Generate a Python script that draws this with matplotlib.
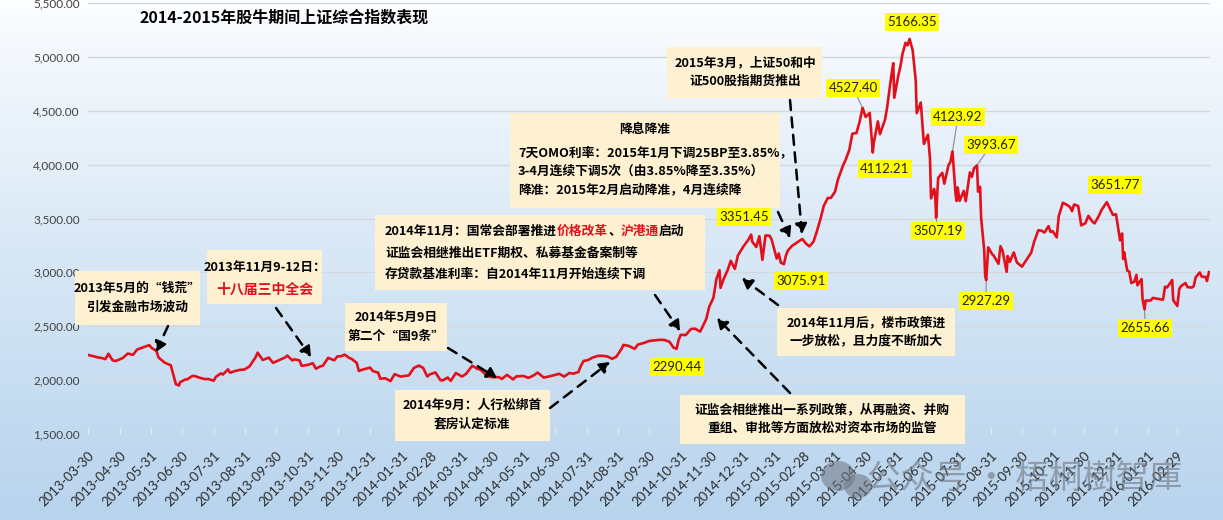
import numpy as np
import pandas as pd
import matplotlib
matplotlib.use('Agg')
import matplotlib.pyplot as plt
from matplotlib.patches import Rectangle, Ellipse, FancyArrowPatch
from matplotlib.ticker import FuncFormatter

plt.rcParams['font.family'] = ['Lato', 'Noto Sans CJK SC', 'DejaVu Sans']
CJK = ['Noto Sans CJK SC', 'DejaVu Sans']

# 上证综合指数（按图读取，约每周一点）
dates = [
    '2013-03-29', '2013-04-03', '2013-04-08', '2013-04-12', '2013-04-16', '2013-04-19', '2013-04-23', '2013-04-26',
    '2013-05-03', '2013-05-08', '2013-05-13', '2013-05-17', '2013-05-22', '2013-05-29', '2013-05-31',
    '2013-06-05', '2013-06-07', '2013-06-13', '2013-06-19', '2013-06-24', '2013-06-27', '2013-06-28',
    '2013-07-03', '2013-07-05', '2013-07-10', '2013-07-12', '2013-07-17', '2013-07-22', '2013-07-26', '2013-07-31',
    '2013-08-02', '2013-08-07', '2013-08-09', '2013-08-14', '2013-08-16', '2013-08-21', '2013-08-26', '2013-08-30',
    '2013-09-04', '2013-09-10', '2013-09-12', '2013-09-17', '2013-09-23', '2013-09-27',
    '2013-10-09', '2013-10-11', '2013-10-16', '2013-10-18', '2013-10-23', '2013-10-25', '2013-10-31',
    '2013-11-05', '2013-11-08', '2013-11-12', '2013-11-15', '2013-11-20', '2013-11-26', '2013-11-29',
    '2013-12-03', '2013-12-06', '2013-12-11', '2013-12-13', '2013-12-18', '2013-12-20', '2013-12-25', '2013-12-31',
    '2014-01-03', '2014-01-08', '2014-01-10', '2014-01-15', '2014-01-20', '2014-01-24', '2014-01-30',
    '2014-02-07', '2014-02-12', '2014-02-17', '2014-02-21', '2014-02-25', '2014-02-28',
    '2014-03-05', '2014-03-10', '2014-03-12', '2014-03-17', '2014-03-20', '2014-03-25', '2014-03-31',
    '2014-04-04', '2014-04-10', '2014-04-15', '2014-04-18', '2014-04-25', '2014-04-30',
    '2014-05-06', '2014-05-09', '2014-05-14', '2014-05-20', '2014-05-23', '2014-05-30',
    '2014-06-04', '2014-06-09', '2014-06-13', '2014-06-19', '2014-06-24', '2014-06-30',
    '2014-07-04', '2014-07-09', '2014-07-14', '2014-07-18', '2014-07-23', '2014-07-25', '2014-07-28',
    '2014-08-01', '2014-08-06', '2014-08-11', '2014-08-15', '2014-08-20', '2014-08-25', '2014-08-29',
    '2014-09-03', '2014-09-05', '2014-09-10', '2014-09-16', '2014-09-19', '2014-09-25', '2014-09-30',
    '2014-10-10', '2014-10-15', '2014-10-20', '2014-10-24', '2014-10-27', '2014-10-29', '2014-10-31',
    '2014-11-05', '2014-11-10', '2014-11-14', '2014-11-19', '2014-11-21', '2014-11-25', '2014-11-28',
    '2014-12-02', '2014-12-05', '2014-12-08', '2014-12-09', '2014-12-12', '2014-12-16', '2014-12-19',
    '2014-12-23', '2014-12-26', '2014-12-31',
    '2015-01-05', '2015-01-08', '2015-01-09', '2015-01-13', '2015-01-16', '2015-01-19', '2015-01-22',
    '2015-01-26', '2015-01-28', '2015-02-02', '2015-02-04', '2015-02-06', '2015-02-09', '2015-02-11',
    '2015-02-13', '2015-02-17', '2015-02-27', '2015-03-03', '2015-03-06', '2015-03-10', '2015-03-13',
    '2015-03-17', '2015-03-20', '2015-03-24', '2015-03-27', '2015-03-31',
    '2015-04-03', '2015-04-08', '2015-04-10', '2015-04-14', '2015-04-17', '2015-04-21', '2015-04-24',
    '2015-04-27', '2015-04-30', '2015-05-04', '2015-05-06', '2015-05-07', '2015-05-08', '2015-05-12',
    '2015-05-14', '2015-05-19', '2015-05-21', '2015-05-25', '2015-05-27', '2015-05-28',
    '2015-06-01', '2015-06-03', '2015-06-05', '2015-06-08', '2015-06-10', '2015-06-12', '2015-06-15',
    '2015-06-18', '2015-06-19', '2015-06-23', '2015-06-26', '2015-06-30',
    '2015-07-02', '2015-07-03', '2015-07-06', '2015-07-07', '2015-07-08', '2015-07-09', '2015-07-10',
    '2015-07-14', '2015-07-16', '2015-07-20', '2015-07-22', '2015-07-24', '2015-07-27', '2015-07-28',
    '2015-07-29', '2015-07-31', '2015-08-04', '2015-08-06', '2015-08-10', '2015-08-12', '2015-08-14',
    '2015-08-17', '2015-08-18', '2015-08-20', '2015-08-21', '2015-08-24', '2015-08-25', '2015-08-26',
    '2015-08-27', '2015-08-28', '2015-09-01', '2015-09-02', '2015-09-07', '2015-09-09', '2015-09-11',
    '2015-09-15', '2015-09-16', '2015-09-18', '2015-09-22', '2015-09-25', '2015-09-30',
    '2015-10-09', '2015-10-12', '2015-10-16', '2015-10-19', '2015-10-22', '2015-10-26', '2015-10-28',
    '2015-10-30', '2015-11-03', '2015-11-05', '2015-11-09', '2015-11-12', '2015-11-16', '2015-11-18',
    '2015-11-20', '2015-11-24', '2015-11-27', '2015-12-01', '2015-12-04', '2015-12-08', '2015-12-10',
    '2015-12-14', '2015-12-17', '2015-12-22', '2015-12-24', '2015-12-28', '2015-12-31',
    '2016-01-04', '2016-01-06', '2016-01-07', '2016-01-08', '2016-01-11', '2016-01-13', '2016-01-15',
    '2016-01-18', '2016-01-20', '2016-01-21', '2016-01-25', '2016-01-26', '2016-01-28', '2016-01-29',
    '2016-02-03', '2016-02-05', '2016-02-15', '2016-02-17', '2016-02-19', '2016-02-24', '2016-02-25',
    '2016-02-29', '2016-03-02', '2016-03-04', '2016-03-08', '2016-03-10', '2016-03-14', '2016-03-16',
    '2016-03-18', '2016-03-22', '2016-03-24', '2016-03-28', '2016-03-29', '2016-03-31',
]
close = [
    2236, 2225, 2212, 2206, 2195, 2245, 2184, 2177,
    2205, 2247, 2235, 2283, 2301, 2325, 2301,
    2270, 2210, 2162, 2138, 1963, 1950, 1979,
    2005, 2007, 2038, 2039, 2023, 2010, 2010, 1994,
    2029, 2063, 2052, 2100, 2069, 2085, 2096, 2098,
    2127, 2212, 2255, 2187, 2209, 2160,
    2211, 2228, 2183, 2193, 2183, 2133, 2141,
    2157, 2106, 2126, 2135, 2207, 2184, 2220,
    2222, 2237, 2204, 2197, 2160, 2085, 2101, 2116,
    2083, 2069, 2013, 2017, 1991, 2055, 2033,
    2044, 2114, 2135, 2113, 2034, 2056,
    2071, 1999, 1997, 2024, 1993, 2066, 2033,
    2058, 2134, 2105, 2097, 2036, 2026,
    2028, 2011, 2049, 2007, 2034, 2039,
    2021, 2043, 2070, 2024, 2034, 2048,
    2059, 2033, 2066, 2060, 2076, 2126, 2178,
    2185, 2210, 2225, 2226, 2220, 2198, 2217,
    2288, 2327, 2318, 2290, 2329, 2345, 2363,
    2374, 2373, 2356, 2302, 2290.44, 2373, 2420,
    2419, 2474, 2478, 2450, 2487, 2567, 2683,
    2763, 2938, 3020, 2856, 2938, 3021, 3108,
    3032, 3157, 3235,
    3300, 3351.45, 3285, 3235, 3336, 3116, 3343,
    3340, 3305, 3128, 3175, 3090, 3075.91, 3157,
    3204, 3246, 3310, 3264, 3241, 3286, 3372,
    3502, 3617, 3691, 3691, 3748,
    3864, 3995, 4035, 4135, 4287, 4293, 4394,
    4527.40, 4442, 4480, 4229, 4112.21, 4205, 4401,
    4283, 4418, 4529, 4814, 4941, 4620,
    4828, 4910, 5023, 5131, 5106, 5166.35, 5062,
    4785, 4478, 4576, 4192, 4277,
    4053, 3687, 3775, 3727, 3507.19, 3710, 3877,
    3924, 3823, 3992, 4026, 4123.92, 3725, 3663,
    3789, 3664, 3756, 3661, 3928, 3887, 3965,
    3993.67, 3749, 3794, 3508, 3210, 2965, 2927.29,
    3084, 3232, 3166, 3160, 3080, 3243, 3200,
    3005, 3152, 3097, 3186, 3092, 3053,
    3183, 3287, 3391, 3387, 3369, 3429, 3375,
    3383, 3325, 3522, 3646, 3632, 3607, 3568,
    3630, 3616, 3436, 3456, 3525, 3470, 3455,
    3520, 3581, 3651.77, 3612, 3533, 3539,
    3297, 3361, 3125, 3186, 3017, 3007, 2901,
    2914, 2977, 2880, 2938, 2750, 2655.66, 2738,
    2739, 2763, 2746, 2867, 2860, 2929, 2742,
    2688, 2849, 2875, 2901, 2863, 2859, 2870,
    2955, 2999, 2960, 2957, 2920, 3003,
]

tick_labels = [
    '2013-03-30', '2013-04-30', '2013-05-31', '2013-06-30', '2013-07-31', '2013-08-31',
    '2013-09-30', '2013-10-31', '2013-11-30', '2013-12-31', '2014-01-31', '2014-02-28',
    '2014-03-31', '2014-04-30', '2014-05-31', '2014-06-30', '2014-07-31', '2014-08-31',
    '2014-09-30', '2014-10-31', '2014-11-30', '2014-12-31', '2015-01-31', '2015-02-28',
    '2015-03-31', '2015-04-30', '2015-05-31', '2015-06-30', '2015-07-31', '2015-08-31',
    '2015-09-30', '2015-10-31', '2015-11-30', '2015-12-31', '2016-01-31', '2016-02-29',
]

# 标注的高低点
peak_dates = ['2014-10-27', '2015-01-08', '2015-02-09', '2015-04-27', '2015-05-07', '2015-06-12',
              '2015-07-08', '2015-07-24', '2015-08-17', '2015-08-26', '2015-12-22', '2016-01-28']
peak_values = [2290.44, 3351.45, 3075.91, 4527.40, 4112.21, 5166.35,
               3507.19, 4123.92, 3993.67, 2927.29, 3651.77, 2655.66]
# 标签位置（像素）及是否画引线
peak_label_px = [(677, 367), (744, 217), (801, 281), (853, 88), (885, 169), (912, 22),
                 (938, 231), (958, 117), (991, 145), (986, 301), (1115, 185), (1145, 328)]
peak_leader = [False, False, False, True, False, False, True, True, True, True, False, True]

W, H = 1223, 520
fig = plt.figure(figsize=(W / 100, H / 100), dpi=100)

# 背景渐变
bg = fig.add_axes([0, 0, 1, 1], zorder=-10)
grad = np.linspace(0, 1, 256).reshape(-1, 1)
top = np.array([0.99, 0.995, 1.0])
bot = np.array([0.72, 0.83, 0.93])
img = top + (bot - top) * grad[:, :, None] ** 0.9
bg.imshow(img, aspect='auto', extent=[0, 1, 0, 1])
bg.axis('off')

ax = fig.add_axes([88 / W, (H - 434) / H, (1210 - 88) / W, (434 - 3) / H])
ax.set_facecolor('none')

x = pd.to_datetime(dates)
ax.plot(x, close, color='#e3101c', lw=1.9, zorder=3)

ax.set_ylim(1500, 5500)
ax.set_yticks(np.arange(1500, 5501, 500))
ax.yaxis.set_major_formatter(FuncFormatter(lambda v, p: f'{v:,.2f}'))
ax.set_xlim(pd.Timestamp('2013-03-30'), pd.Timestamp('2016-04-01'))
ax.set_xticks(pd.to_datetime(tick_labels))
ax.set_xticklabels(tick_labels, rotation=45, ha='right', rotation_mode='anchor')
ax.tick_params(axis='x', labelsize=9.5, colors='#2a2a2a', length=4, color='#e8eef5',
               direction='in', pad=11)
ax.tick_params(axis='y', labelsize=8.5, colors='#404040', length=0, pad=6)
ax.grid(axis='y', color='#d3d8de', lw=1)
ax.set_axisbelow(True)
for s in ax.spines.values():
    s.set_visible(False)


def fp(px, py):
    return (px / W, 1 - py / H)


CREAM = '#fdf1d2'


def box(x0, y0, x1, y1):
    fig.patches.append(Rectangle(fp(x0, y1), (x1 - x0) / W, (y1 - y0) / H,
                                 transform=fig.transFigure, facecolor=CREAM,
                                 edgecolor='none', zorder=4))


def note(px, py, s, color='black', ha='center', size=9.2):
    return fig.text(px / W, 1 - py / H, s, ha=ha, va='center', fontsize=size,
                    fontweight='bold', color=color, zorder=5, linespacing=1.55,
                    family=CJK)


def arrow(x0, y0, x1, y1):
    fig.add_artist(FancyArrowPatch(
        fp(x0, y0), fp(x1, y1), transform=fig.transFigure,
        arrowstyle='-|>,head_length=6,head_width=3.5', linestyle=(0, (4, 3)),
        lw=1.8, color='black', zorder=6, shrinkA=0, shrinkB=0))


fig.text(140 / W, 1 - 18 / H, '2014-2015年股牛期间上证综合指数表现', fontsize=11.5,
         fontweight='bold', va='center', family=CJK)

box(75, 271, 200, 325)
note(137, 298, '2013年5月的“钱荒”\n引发金融市场波动')
arrow(168, 326, 156, 352)

box(207, 250, 322, 304)
note(265, 267, '2013年11月9-12日：')
note(265, 290, '十八届三中全会', color='#e3101c', size=10)
arrow(276, 308, 311, 357)

box(345, 303, 447, 351)
note(396, 327, '2014年5月9日\n第二个“国9条”')
arrow(448, 348, 497, 378)

box(395, 390, 550, 441)
note(472, 415, '2014年9月：人行松绑首\n套房认定标准')
arrow(550, 408, 610, 362)

# 2014年11月 说明框，第一行部分文字为红色
box(375, 215, 705, 290)
renderer = fig.canvas.get_renderer()
cx = 385
for seg, col in [('2014年11月：国常会部署推进', 'black'), ('价格改革', '#e3101c'),
                 ('、', 'black'), ('沪港通', '#e3101c'), ('启动', 'black')]:
    t = note(cx, 231, seg, color=col, ha='left')
    cx = t.get_window_extent(renderer).x1
note(385, 253, '证监会相继推出ETF期权、私募基金备案制等', ha='left')
note(385, 274, '存贷款基准利率：自2014年11月开始连续下调', ha='left')
arrow(655, 295, 680, 331)

box(510, 113, 780, 208)
note(645, 129, '降息降准')
note(518, 171, '7天OMO利率：2015年1月下调25BP至3.85%，\n3-4月连续下调5次（由3.85%降至3.35%）\n降准：2015年2月启动降准，4月连续降', ha='left')
arrow(778, 212, 790, 238)

box(667, 47, 822, 98)
note(745, 72, '2015年3月，上证50和中\n证500股指期货推出')
arrow(790, 100, 802, 234)

box(777, 308, 955, 356)
note(866, 332, '2014年11月后，楼市政策进\n一步放松，且力度不断加大')
arrow(778, 305, 742, 278)

box(680, 395, 965, 444)
note(822, 419, '证监会相继推出一系列政策，从再融资、并购\n重组、审批等方面放松对资本市场的监管')
arrow(790, 393, 717, 318)

for d, v, (lx, ly), lead in zip(peak_dates, peak_values, peak_label_px, peak_leader):
    ax.annotate(f'{v:.2f}', xy=(pd.Timestamp(d), v), xytext=fp(lx, ly),
                textcoords='figure fraction', ha='center', va='center', fontsize=9.5,
                color='#202020', zorder=7,
                bbox=dict(boxstyle='square,pad=0.2', facecolor='#ffff00', edgecolor='none'),
                arrowprops=dict(arrowstyle='-', color='#8a8a8a', lw=0.8, shrinkA=0, shrinkB=1) if lead else None,
                annotation_clip=False)

# 水印
for (ex, ey, ew, eh) in [(838, 476, 34, 30), (858, 486, 28, 24)]:
    fig.patches.append(Ellipse(fp(ex, ey), ew / W, eh / H, transform=fig.transFigure,
                               facecolor='#6f7580', alpha=0.55, edgecolor='none', zorder=8))
fig.text(1025 / W, 1 - 478 / H, '公众号 · 梧桐樹智庫', fontsize=24, color='#6f7580', alpha=0.6,
         ha='center', va='center', family=CJK, zorder=8)

fig.savefig('out.png', dpi=100)
